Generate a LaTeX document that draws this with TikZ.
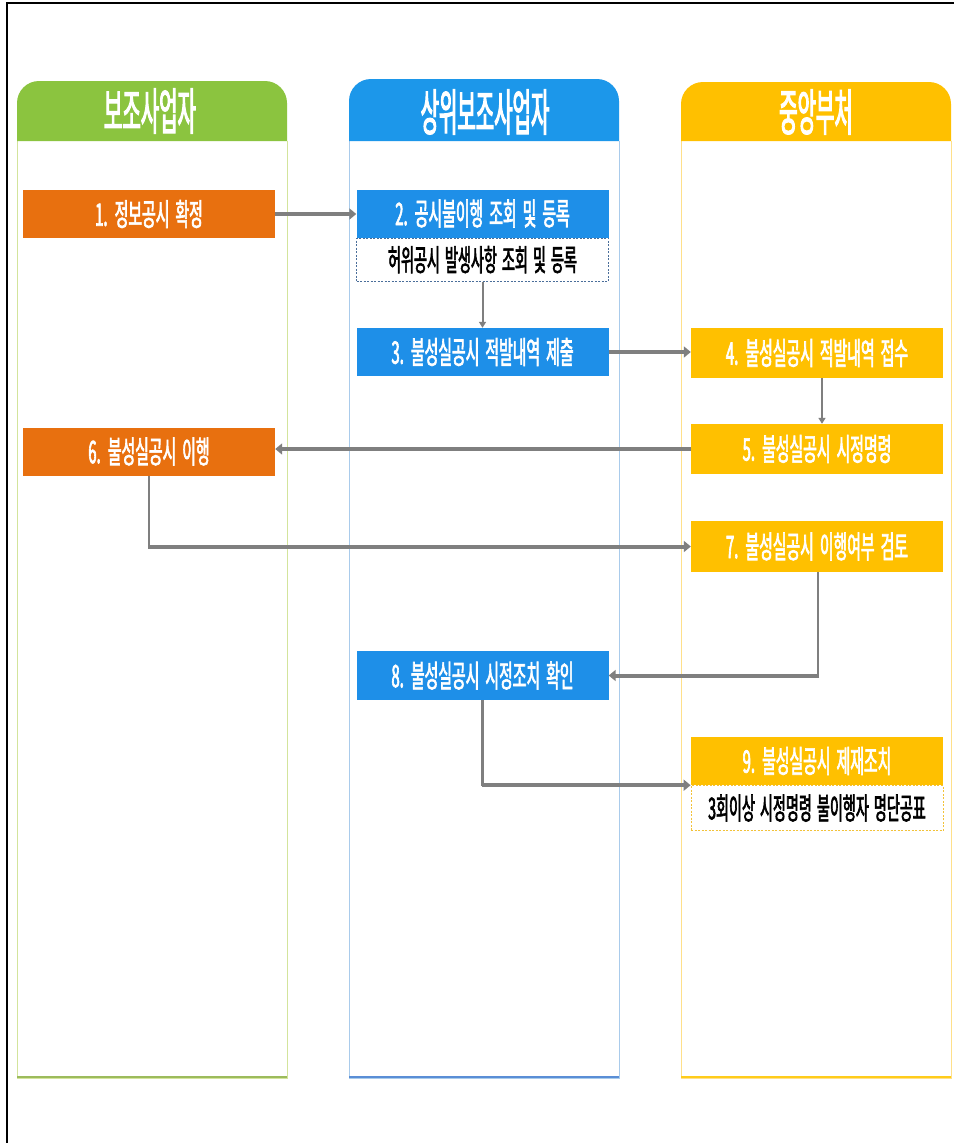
\documentclass[tikz,border=0pt]{standalone}
\usepackage{fontspec}
\newfontfamily\kr[FakeStretch=0.48,AutoFakeBold=2,WordSpace=1.8]{Noto Sans CJK KR}
\newfontfamily\krs[FakeStretch=0.47,AutoFakeBold=2,WordSpace=1.6]{Noto Sans CJK KR}
\newfontfamily\krh[FakeStretch=0.4,AutoFakeBold=2]{Noto Sans CJK KR}
\usetikzlibrary{arrows.meta}
\definecolor{hgreen}{HTML}{8BC43F}
\definecolor{hblue}{HTML}{1C97EA}
\definecolor{hyellow}{HTML}{FFC000}
\definecolor{borange}{HTML}{E8700F}
\definecolor{bblue}{HTML}{1E8FE8}
\definecolor{byellow}{HTML}{FFC000}
\definecolor{lgreen}{HTML}{D3E49C}
\definecolor{lblue}{HTML}{A9CBEB}
\definecolor{lyellow}{HTML}{FFE08A}
\definecolor{dgreen}{HTML}{9CBB5C}
\definecolor{dblue}{HTML}{5A8ED6}
\definecolor{dyellow}{HTML}{FFCC1A}
\definecolor{arr}{HTML}{7F7F7F}
\definecolor{dashblue}{HTML}{4A6E9A}
\definecolor{dashyellow}{HTML}{F2C23A}
\begin{document}
\begin{tikzpicture}[x=1pt,y=-1pt,
  headtxt/.style={text=white,inner sep=0pt,font=\krh\bfseries\fontsize{50}{50}\selectfont},
  stepbox/.style={minimum width=252pt,minimum height=48pt,inner sep=0pt,text=white,
    font=\kr\bfseries\fontsize{31}{31}\selectfont},
  orangebox/.style={stepbox,fill=borange},
  bluebox/.style={stepbox,fill=bblue},
  yellowbox/.style={stepbox,fill=byellow},
  subbox/.style={minimum width=252pt,minimum height=43pt,inner sep=0pt,text=black,fill=white,
    dash pattern=on 2pt off 1.5pt,line width=0.8pt,font=\krs\bfseries\fontsize{30}{30}\selectfont},
  harrow/.style={draw=arr,line width=4pt,-{Triangle[length=7pt,width=11pt]}},
  varrow/.style={draw=arr,line width=2pt,-{Triangle[length=6pt,width=7pt]}},
  vline/.style={draw=arr,line width=2.5pt}]
\useasboundingbox (0,0) rectangle (954,1143);
\fill[white] (0,0) rectangle (954,1143);
\draw[black,line width=1.3pt] (7,1143) -- (7,3) -- (954,3);
% columns
\draw[lgreen,line width=0.8pt] (17,141) -- (17,1078) -- (287,1078) -- (287,141);
\draw[dgreen,line width=2pt] (17,1077) -- (287,1077);
\fill[hgreen] (17,141) [rounded corners=22pt] -- (17,81) -- (287,81) [sharp corners] -- (287,141) -- cycle;
\node[headtxt] (h1) at (150,111) {보조사업자};
\draw[lblue,line width=0.8pt] (349,141) -- (349,1078) -- (619,1078) -- (619,141);
\draw[dblue,line width=2pt] (349,1077) -- (619,1077);
\fill[hblue] (349,141) [rounded corners=22pt] -- (349,79) -- (619,79) [sharp corners] -- (619,141) -- cycle;
\node[headtxt] (h2) at (485,112) {상위보조사업자};
\draw[lyellow,line width=0.8pt] (681,141) -- (681,1078) -- (951,1078) -- (951,141);
\draw[dyellow,line width=2pt] (681,1077) -- (951,1077);
\fill[hyellow] (681,141) [rounded corners=22pt] -- (681,82) -- (951,82) [sharp corners] -- (951,141) -- cycle;
\node[headtxt] (h3) at (816,112) {중앙부처};
% boxes
\node[orangebox] (b1) at (149,214) {1. 정보공시 확정};
\node[bluebox] (b2) at (482.5,213.5) {2. 공시불이행 조회 및 등록};
\node[subbox,draw=dashblue,anchor=north] (b2s) at (b2.south) {허위공시 발생사항 조회 및 등록};
\node[bluebox] (b3) at (482.5,352) {3. 불성실공시 적발내역 제출};
\node[yellowbox,minimum height=50pt] (b4) at (817,353) {4. 불성실공시 적발내역 접수};
\node[yellowbox,minimum height=50pt] (b5) at (817,449) {5. 불성실공시 시정명령};
\node[orangebox] (b6) at (149,451.5) {6. 불성실공시 이행};
\node[yellowbox,minimum height=51pt] (b7) at (817,546.5) {7. 불성실공시 이행여부 검토};
\node[bluebox,minimum height=49pt] (b8) at (482.5,675.5) {8. 불성실공시 시정조치 확인};
\node[yellowbox] (b9) at (817,761) {9. 불성실공시 제재조치};
\node[subbox,draw=dashyellow,minimum height=45pt,anchor=north] (b9s) at (b9.south) {3회이상 시정명령 불이행자 명단공표};
% connectors
\draw[harrow] (b1.east) -- (b1.east -| b2.west);
\draw[varrow] (b2s.south) -- (b3.north);
\draw[harrow] (b3.east) -- (b3.east -| b4.west);
\draw[varrow] ([xshift=5pt]b4.south) -- ([xshift=5pt]b4.south |- b5.north);
\draw[harrow] (b5.west) -- (b5.west -| b6.east);
\coordinate (c67) at (b6.south |- b7.west);
\draw[vline] (b6.south) -- ([yshift=-1pt]c67);
\draw[harrow] ([xshift=-1pt]c67) -- (b7.west);
\coordinate (c78) at ([xshift=1pt]b7.south |- b8.east);
\draw[vline] ([xshift=1pt]b7.south) -- ([yshift=-1pt]c78);
\draw[harrow] ([xshift=1pt]c78) -- (b8.east);
\coordinate (c89) at (b8.south |- b9s.north west);
\draw[vline] (b8.south) -- ([yshift=-1pt]c89);
\draw[harrow] ([xshift=-1pt]c89) -- (b9s.north west);
\end{tikzpicture}
\end{document}
